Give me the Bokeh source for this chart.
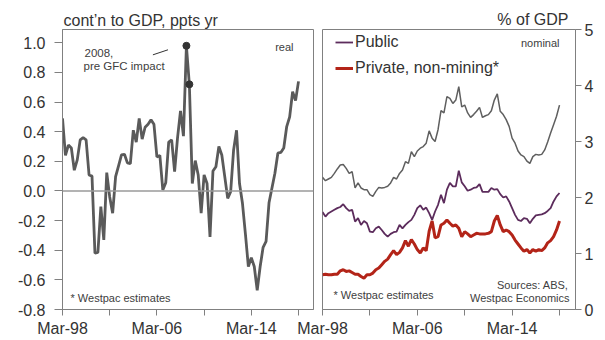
import pandas as pd
from bokeh.plotting import figure
from bokeh.layouts import row
from bokeh.models import (FixedTicker, PrintfTickFormatter, CustomJSTickFormatter,
                          Span, Label, Range1d, ColumnDataSource)
from bokeh.embed import file_html
from bokeh.resources import INLINE

FONT = "Liberation Sans"
TEXT = "#333333"
AXIS = "#808080"

# Quarterly observations, Mar-98 to Mar-18
quarters = pd.period_range("1998Q1", "2018Q1", freq="Q")
t = [p.year + (p.quarter - 1) / 4 for p in quarters]

# Public investment, contribution to real GDP growth (ppts, yr-ended)
contribution = [
    0.49, 0.24, 0.31, 0.29, 0.14, 0.21, 0.345, 0.36, 0.345, 0.108,
    0.10, -0.42, -0.415, -0.106, -0.33, 0.124, -0.04, -0.15, 0.097, 0.17,
    0.243, 0.248, 0.19, 0.185, 0.41, 0.33, 0.49, 0.35, 0.43, 0.45,
    0.48, 0.45, 0.23, 0.24, 0.007, 0.056, 0.33, 0.345, 0.13, 0.36,
    0.54, 0.37, 0.98, 0.72, 0.05, 0.205, 0.108, -0.15, 0.108, 0.05,
    -0.31, 0.135, 0.164, 0.30, 0.243, 0.097, -0.05, -0.005, 0.277, 0.41,
    0.05, -0.083, -0.29, -0.51, -0.45, -0.51, -0.67, -0.51, -0.38, -0.34,
    -0.08, 0.02, 0.12, 0.255, 0.26, 0.29, 0.435, 0.50, 0.67, 0.61,
    0.74,
]

# Nominal investment, % of GDP
public = [
    1.74, 1.66, 1.72, 1.75, 1.78, 1.81, 1.83, 1.88, 1.81, 1.76,
    1.78, 1.57, 1.63, 1.51, 1.58, 1.54, 1.39, 1.38, 1.45, 1.48,
    1.42, 1.35, 1.30, 1.35, 1.38, 1.39, 1.51, 1.45, 1.51, 1.56,
    1.60, 1.69, 1.81, 1.86, 1.78, 1.82, 1.72, 1.60, 1.75, 1.87,
    2.05, 1.90, 2.14, 2.26, 2.20, 2.20, 2.48, 2.27, 2.20, 2.12,
    2.14, 2.17, 2.18, 2.24, 2.10, 2.10, 2.10, 2.17, 2.14, 2.15,
    2.06, 2.00, 2.02, 1.93, 1.81, 1.69, 1.60, 1.58, 1.63, 1.62,
    1.54, 1.62, 1.68, 1.69, 1.70, 1.72, 1.76, 1.81, 1.93, 2.02,
    2.08,
]
private_non_mining = [
    0.62, 0.63, 0.62, 0.62, 0.63, 0.63, 0.69, 0.71, 0.68, 0.69,
    0.66, 0.63, 0.63, 0.59, 0.56, 0.62, 0.62, 0.65, 0.71, 0.74,
    0.80, 0.86, 0.90, 0.98, 1.05, 0.98, 1.02, 1.10, 1.23, 1.13,
    1.25, 1.17, 1.07, 1.01, 1.10, 1.05, 1.40, 1.58, 1.28, 1.30,
    1.51, 1.54, 1.60, 1.54, 1.49, 1.51, 1.45, 1.30, 1.39, 1.35,
    1.30, 1.33, 1.36, 1.35, 1.35, 1.35, 1.36, 1.39, 1.58, 1.68,
    1.51, 1.39, 1.42, 1.39, 1.33, 1.24, 1.17, 1.10, 1.04, 1.07,
    1.01, 1.07, 1.04, 1.07, 1.05, 1.10, 1.19, 1.23, 1.30, 1.42,
    1.58,
]
total = [
    2.36, 2.30, 2.33, 2.36, 2.43, 2.51, 2.58, 2.59, 2.52, 2.43,
    2.46, 2.17, 2.26, 2.17, 2.14, 2.14, 2.05, 2.02, 2.11, 2.18,
    2.17, 2.18, 2.20, 2.26, 2.36, 2.33, 2.43, 2.49, 2.64, 2.61,
    2.82, 2.73, 2.83, 2.88, 2.91, 2.97, 3.19, 3.06, 3.00, 3.21,
    3.55, 3.51, 3.80, 3.77, 3.68, 3.74, 3.98, 3.62, 3.65, 3.51,
    3.43, 3.48, 3.54, 3.61, 3.43, 3.46, 3.48, 3.55, 3.74, 3.85,
    3.54, 3.48, 3.39, 3.27, 3.06, 2.97, 2.83, 2.76, 2.73, 2.65,
    2.61, 2.73, 2.77, 2.76, 2.77, 2.85, 2.99, 3.15, 3.30, 3.45,
    3.65,
]

left_yticks = [-0.8, -0.6, -0.4, -0.2, 0.0, 0.2, 0.4, 0.6, 0.8, 1.0]
right_yticks = [0, 1, 2, 3, 4, 5]
labelled_years = [1998, 2006, 2014]
unlabelled_years = [2002, 2010, 2018]
highlight = [42, 43]  # Sep-08 and Dec-08 quarters


def style_common(p):
    p.xgrid.visible = False
    p.ygrid.visible = False
    p.outline_line_color = AXIS
    p.outline_line_width = 1
    p.background_fill_color = "white"
    ax = p.xaxis[0]
    ax.ticker = FixedTicker(ticks=labelled_years, minor_ticks=unlabelled_years)
    ax.formatter = CustomJSTickFormatter(
        code="return 'Mar-' + String(Math.round(tick) % 100).padStart(2, '0');")
    ax.axis_line_color = AXIS
    ax.major_tick_line_color = AXIS
    ax.minor_tick_line_color = AXIS
    ax.major_tick_out = 6
    ax.major_tick_in = 0
    ax.minor_tick_out = 6
    ax.minor_tick_in = 0
    ax.major_label_standoff = 4
    ax.major_label_text_font = FONT
    ax.major_label_text_font_size = "16px"
    ax.major_label_text_color = TEXT
    p.title.text_font = FONT
    p.title.text_font_size = "16px"
    p.title.text_font_style = "normal"
    p.title.text_color = TEXT
    p.title.vertical_align = "bottom"


def small_label(p, x, y, text, align="left", size="11px"):
    p.add_layout(Label(x=x, y=y, x_units="screen", y_units="screen", text=text,
                       text_font=FONT, text_font_size=size, text_color="#404040",
                       text_align=align, text_baseline="middle"))


# ---------- left panel: real contribution ----------
p1 = figure(width=317, height=340, output_backend="svg", toolbar_location=None,
            title="cont\u2019n to GDP, ppts yr",
            x_range=Range1d(1998, 2019.27), y_range=Range1d(-0.8, 1.09),
            min_border_left=62, min_border_right=4,
            min_border_top=29, min_border_bottom=31)
style_common(p1)
p1.border_fill_color = "white"
p1.title.align = "left"
p1.title.offset = 1
p1.title.standoff = 1

ya = p1.yaxis[0]
ya.ticker = FixedTicker(ticks=left_yticks)
ya.formatter = PrintfTickFormatter(format="%.1f")
ya.axis_line_color = AXIS
ya.major_tick_line_color = AXIS
ya.major_tick_out = 8
ya.major_tick_in = 0
ya.minor_tick_out = 0
ya.minor_tick_in = 0
ya.major_label_standoff = 9
ya.major_label_text_font = FONT
ya.major_label_text_font_size = "16px"
ya.major_label_text_color = TEXT

p1.add_layout(Span(location=0, dimension="width", line_color="#9a9a9a", line_width=1.5))
p1.line(t, contribution, line_color="#5a5a5a", line_width=2.8)
p1.scatter([t[i] for i in highlight], [contribution[i] for i in highlight],
           size=7, color="#333333")

# pointer from the note to the 2008 peak
p1.segment(x0=[2005.66], y0=[0.919], x1=[2006.94], y1=[0.953],
           line_color="#333333", line_width=1)

small_label(p1, 231, 263, "real", align="right")
small_label(p1, 22, 257, "2008,", size="11.5px")
small_label(p1, 21, 244, "pre GFC impact", size="11.5px")
small_label(p1, 8, 12, "* Westpac estimates")

# ---------- right panel: nominal, % of GDP ----------
# The canvas reaches 28px under the left panel so the first date label is not cut.
p2 = figure(width=316, height=340, output_backend="svg", toolbar_location=None,
            title="% of GDP",
            x_range=Range1d(1998, 2019.35), y_range=Range1d(0, 5),
            y_axis_location="right",
            min_border_left=33, min_border_right=30,
            min_border_top=29, min_border_bottom=31)
style_common(p2)
p2.border_fill_color = None
p2.margin = (0, 0, 0, -28)
p2.title.align = "right"
p2.title.offset = 7
p2.title.standoff = 4

yb = p2.yaxis[0]
yb.ticker = FixedTicker(ticks=right_yticks)
yb.axis_line_color = AXIS
yb.major_tick_line_color = AXIS
yb.major_tick_out = 6
yb.major_tick_in = 0
yb.minor_tick_out = 0
yb.minor_tick_in = 0
yb.major_label_standoff = 3
yb.major_label_text_font = FONT
yb.major_label_text_font_size = "16px"
yb.major_label_text_color = TEXT

src = ColumnDataSource(dict(t=t, total=total, public=public, private=private_non_mining))
p2.line("t", "total", source=src, line_color="#5f5f5f", line_width=1.5)
p2.line("t", "public", source=src, line_color="#5c2c5c", line_width=1.8,
        legend_label="Public")
p2.line("t", "private", source=src, line_color="#b32418", line_width=3,
        legend_label="Private, non-mining*")

lg = p2.legend[0]
lg.location = (13, 231)
lg.padding = 0
lg.margin = 0
lg.spacing = 6
lg.glyph_width = 18
lg.glyph_height = 20
lg.label_height = 20
lg.label_standoff = 2
lg.label_text_font = FONT
lg.label_text_font_size = "16px"
lg.label_text_color = TEXT
lg.border_line_color = None
lg.background_fill_alpha = 0

small_label(p2, 237, 267, "nominal", align="right")
small_label(p2, 11, 15, "* Westpac estimates")
small_label(p2, 246, 25, "Sources: ABS,", align="right")
small_label(p2, 247, 12, "Westpac Economics", align="right")

layout = row(p1, p2)
open("out.html", "w").write(file_html(layout, INLINE, "Public infrastructure investment"))
